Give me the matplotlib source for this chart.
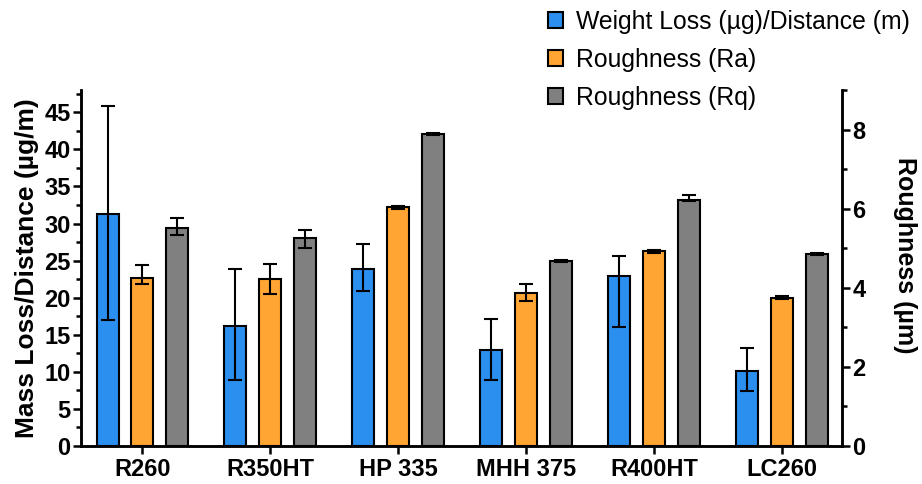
import matplotlib
matplotlib.use("Agg")
import matplotlib.pyplot as plt
from matplotlib.ticker import MultipleLocator
from matplotlib.patches import Patch
import numpy as np

plt.rcParams["font.family"] = ["Liberation Sans", "DejaVu Sans"]

# Data
materials = ["R260", "R350HT", "HP 335", "MHH 375", "R400HT", "LC260"]

mass_loss = [31.35, 16.2, 23.9, 12.9, 22.9, 10.15]
mass_loss_lo = [14.35, 7.25, 2.95, 3.95, 6.9, 2.75]
mass_loss_hi = [14.45, 7.6, 3.3, 4.2, 2.7, 3.1]

ra = [4.24, 4.22, 6.03, 3.87, 4.92, 3.75]
ra_lo = [0.14, 0.37, 0.04, 0.20, 0.03, 0.03]
ra_hi = [0.34, 0.37, 0.04, 0.22, 0.03, 0.03]

rq = [5.50, 5.25, 7.89, 4.68, 6.23, 4.85]
rq_lo = [0.16, 0.25, 0.03, 0.03, 0.03, 0.02]
rq_hi = [0.26, 0.21, 0.03, 0.03, 0.12, 0.02]

labels = ["Weight Loss (µg)/Distance (m)", "Roughness (Ra)", "Roughness (Rq)"]
colors = ["#2b8ff0", "#ffa533", "#808080"]

x = np.arange(len(materials))
width = 0.172
offset = 0.273

fig = plt.figure(figsize=(9.22, 4.84), dpi=100)
ax = fig.add_axes([0.0879, 0.0785, 0.8253, 0.7355])
ax2 = ax.twinx()

err_kw = dict(ecolor="black", elinewidth=1.5, capsize=5, capthick=1.5)

ax.bar(x - offset, mass_loss, width, color=colors[0], edgecolor="black",
       linewidth=1.5, yerr=[mass_loss_lo, mass_loss_hi], error_kw=err_kw, zorder=2)
ax2.bar(x, ra, width, color=colors[1], edgecolor="black",
        linewidth=1.5, yerr=[ra_lo, ra_hi], error_kw=err_kw, zorder=2)
ax2.bar(x + offset, rq, width, color=colors[2], edgecolor="black",
        linewidth=1.5, yerr=[rq_lo, rq_hi], error_kw=err_kw, zorder=2)

ax.set_xlim(-0.48, 5.47)
ax.set_ylim(0, 48)
ax2.set_ylim(0, 9)

ax.set_xticks(x)
ax.set_xticklabels(materials, fontsize=18, fontweight="bold")
ax.yaxis.set_major_locator(MultipleLocator(5))
ax.yaxis.set_minor_locator(MultipleLocator(2.5))
ax2.yaxis.set_major_locator(MultipleLocator(2))
ax2.yaxis.set_minor_locator(MultipleLocator(1))

for a in (ax, ax2):
    a.spines["top"].set_visible(False)
    for s in a.spines.values():
        s.set_linewidth(1.8)
    a.tick_params(axis="both", which="major", direction="out", length=5.5, width=1.8,
                  labelsize=17, pad=2)
    a.tick_params(axis="y", which="minor", direction="out", length=3.5, width=1.8)
    for lbl in a.get_yticklabels():
        lbl.set_fontweight("bold")
ax.tick_params(axis="x", pad=3)

ax.set_ylabel("Mass Loss/Distance (µg/m)", fontsize=19, fontweight="bold", labelpad=4)
ax2.set_ylabel("Roughness (µm)", fontsize=18, fontweight="bold", rotation=-90,
               va="center")
ax2.yaxis.set_label_coords(1.083, 0.535)

handles = [Patch(facecolor=c, edgecolor="black", linewidth=1.5) for c in colors]
fig.legend(handles, labels, loc="upper left", bbox_to_anchor=(0.594, 0.98),
           frameon=False, fontsize=17.8, handlelength=0.6, handleheight=0.6,
           handletextpad=0.55, labelspacing=0.57, borderpad=0, borderaxespad=0)

plt.savefig("out.png", dpi=100)
